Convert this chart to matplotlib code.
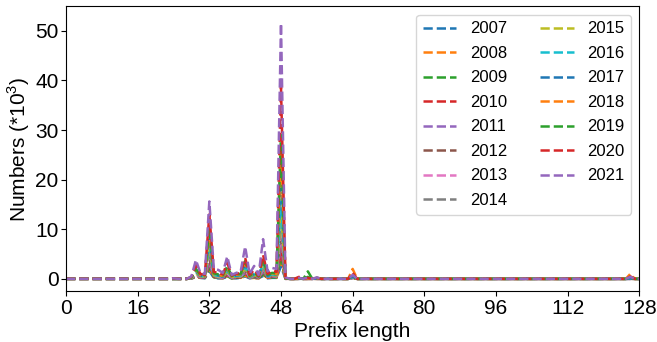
import numpy as np
import matplotlib
matplotlib.use("Agg")
import matplotlib.pyplot as plt

plt.rcParams['font.family'] = ['Liberation Sans', 'DejaVu Sans']
plt.rcParams['mathtext.fontset'] = 'custom'
plt.rcParams['mathtext.rm'] = 'Liberation Sans'

# prefix lengths that carry non-zero counts (all others are 0)
prefixes = [24, 28, 29, 30, 31, 32, 33, 34, 35, 36, 37, 38, 39, 40,
            41, 42, 43, 44, 45, 46, 47, 48, 49, 52, 54, 56, 64, 126]

# counts in thousands, one list per year, aligned with prefixes
y2007 = [0.0, 0.1, 0.3, 0.2, 0.1, 1.6, 0.2, 0.1, 0.1, 0.4, 0.1, 0.1, 0.2, 0.5,
         0.1, 0.2, 0.1, 0.6, 0.1, 0.2, 0.2, 2.5, 0.0, 0.0, 0.0, 0.0, 0.1, 0.0]
y2008 = [0.0, 0.1, 0.4, 0.2, 0.2, 2.0, 0.3, 0.2, 0.1, 0.5, 0.1, 0.2, 0.2, 0.7,
         0.1, 0.2, 0.1, 0.8, 0.2, 0.3, 0.2, 3.5, 0.0, 0.0, 0.0, 0.0, 0.4, 0.1]
y2009 = [0.0, 0.1, 0.5, 0.3, 0.2, 2.3, 0.3, 0.2, 0.2, 0.6, 0.1, 0.2, 0.3, 0.9,
         0.2, 0.3, 0.1, 1.0, 0.2, 0.3, 0.3, 4.5, 0.0, 0.0, 0.4, 0.0, 0.1, 0.0]
y2010 = [0.0, 0.1, 0.6, 0.3, 0.3, 2.8, 0.4, 0.3, 0.2, 0.7, 0.2, 0.3, 0.3, 1.1,
         0.2, 0.4, 0.2, 1.3, 0.3, 0.4, 0.3, 5.5, 0.0, 0.1, 0.0, 0.0, 0.2, 0.0]
y2011 = [0.0, 0.1, 0.7, 0.3, 0.3, 3.3, 0.4, 0.3, 0.2, 0.8, 0.2, 0.3, 0.4, 1.3,
         0.2, 0.4, 0.2, 1.5, 0.3, 0.5, 0.4, 7.0, 0.0, 0.0, 0.0, 0.0, 0.1, 0.0]
y2012 = [0.0, 0.1, 0.8, 0.4, 0.3, 4.0, 0.5, 0.4, 0.3, 1.0, 0.2, 0.4, 0.4, 1.5,
         0.3, 0.5, 0.2, 1.8, 0.3, 0.5, 0.4, 8.5, 0.0, 0.0, 0.0, 0.1, 0.2, 0.0]
y2013 = [0.0, 0.2, 0.9, 0.4, 0.4, 4.8, 0.6, 0.4, 0.3, 1.1, 0.3, 0.4, 0.5, 1.8,
         0.3, 0.6, 0.3, 2.1, 0.4, 0.6, 0.5, 10.0, 0.0, 0.0, 0.0, 0.1, 0.2, 0.0]
y2014 = [0.0, 0.2, 1.0, 0.5, 0.4, 5.5, 0.6, 0.5, 0.4, 1.3, 0.3, 0.5, 0.5, 2.0,
         0.3, 0.7, 0.3, 2.4, 0.4, 0.7, 0.6, 12.0, 0.1, 0.0, 0.0, 0.1, 0.3, 0.0]
y2015 = [0.0, 0.2, 1.2, 0.5, 0.5, 6.5, 0.7, 0.5, 0.4, 1.5, 0.4, 0.5, 0.6, 2.3,
         0.4, 0.8, 0.3, 2.8, 0.5, 0.8, 0.7, 14.0, 0.1, 0.0, 0.0, 0.1, 0.3, 0.1]
y2016 = [0.0, 0.2, 1.4, 0.6, 0.5, 7.5, 0.8, 0.6, 0.5, 1.7, 0.4, 0.6, 0.7, 2.6,
         0.4, 0.9, 0.4, 3.1, 0.5, 0.9, 0.8, 16.0, 0.1, 0.1, 0.1, 0.1, 0.4, 0.1]
y2017 = [0.0, 0.3, 1.6, 0.6, 0.6, 8.5, 0.9, 0.7, 0.5, 2.0, 0.5, 0.7, 0.8, 3.0,
         0.5, 1.0, 0.4, 3.5, 0.6, 1.0, 0.9, 22.0, 0.1, 0.1, 0.1, 0.1, 0.5, 0.1]
y2018 = [0.0, 0.3, 1.8, 0.7, 0.6, 9.5, 1.0, 0.8, 0.6, 2.2, 0.5, 0.8, 0.9, 3.3,
         0.5, 1.2, 0.5, 3.8, 0.7, 1.1, 1.0, 26.0, 0.1, 0.1, 0.1, 0.2, 2.0, 1.0]
y2019 = [0.0, 0.3, 2.0, 0.8, 0.7, 10.5, 1.1, 0.9, 0.7, 2.5, 0.6, 0.9, 1.0, 3.6,
         0.6, 1.3, 0.5, 4.2, 0.8, 1.2, 1.1, 29.0, 0.1, 0.1, 1.5, 0.2, 0.6, 0.2]
y2020 = [0.1, 0.4, 2.8, 1.0, 0.8, 13.0, 1.4, 1.2, 0.9, 3.2, 0.7, 1.0, 1.2, 4.2,
         0.8, 1.8, 0.6, 4.8, 1.0, 1.6, 1.4, 38.7, 0.2, 0.4, 0.2, 0.2, 1.2, 0.5]
y2021 = [0.1, 0.5, 3.8, 1.2, 1.0, 15.6, 2.0, 1.8, 1.2, 4.5, 0.8, 1.2, 1.5, 6.5,
         1.0, 2.6, 0.8, 8.0, 1.5, 2.2, 2.0, 51.5, 0.3, 0.2, 0.3, 0.3, 0.8, 0.4]

years = list(range(2007, 2022))
series = [y2007, y2008, y2009, y2010, y2011, y2012, y2013, y2014,
          y2015, y2016, y2017, y2018, y2019, y2020, y2021]

x = np.arange(0, 129)

fig, ax = plt.subplots(figsize=(6.57, 3.42), dpi=100)
fig.subplots_adjust(left=0.1005, right=0.973, top=0.981, bottom=0.1477)

for year, vals in zip(years, series):
    y = np.zeros(len(x))
    y[prefixes] = vals
    ax.plot(x, y, linestyle='--', linewidth=1.8, label=str(year))

ax.set_xlim(0, 128)
ax.set_ylim(-2.55, 54.9)
ax.set_xticks(range(0, 129, 16))
ax.set_yticks(range(0, 51, 10))
ax.tick_params(labelsize=15, pad=2)
ax.set_xlabel("Prefix length", fontsize=15, labelpad=2.5)
ax.set_ylabel("Numbers (*10$^3$)", fontsize=15, labelpad=2)
ax.legend(ncol=2, loc='upper right', fontsize=12, labelspacing=0.57)

fig.savefig("out.png", dpi=100)
